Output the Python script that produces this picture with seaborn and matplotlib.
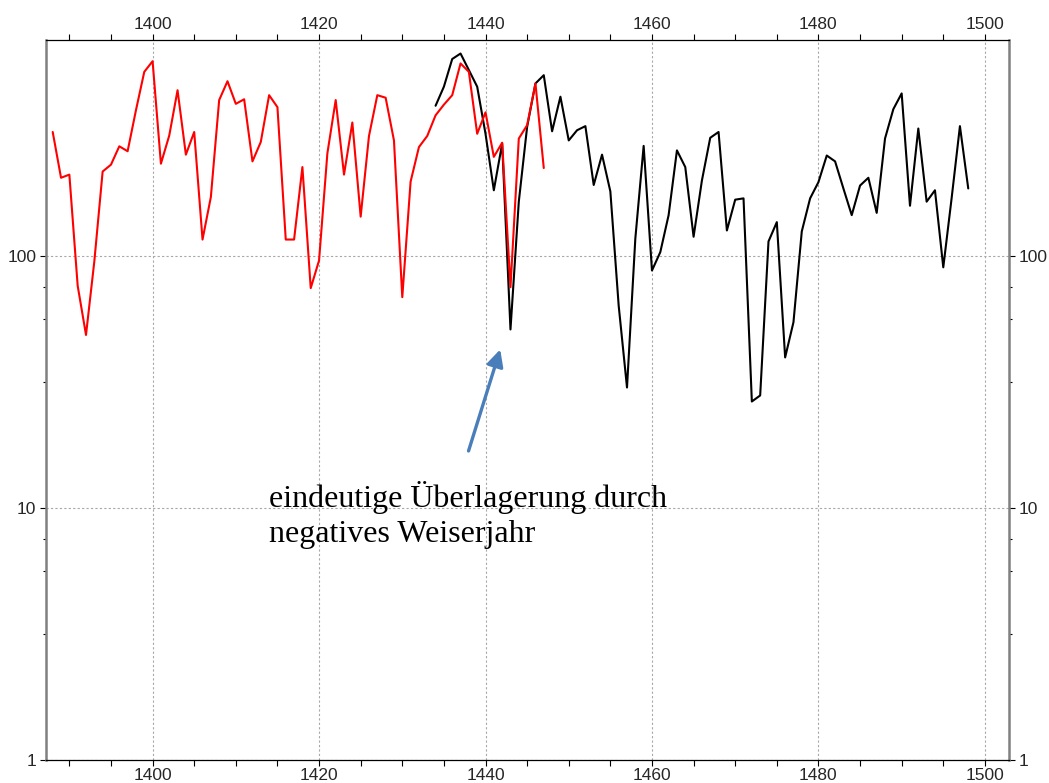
import numpy as np
import pandas as pd
import matplotlib
matplotlib.use('Agg')
import matplotlib.pyplot as plt
from matplotlib.ticker import FixedLocator, NullFormatter
import seaborn as sns

# red series (Kurve 1), 1388-1447
red_start = 1388
red_values = [310, 204, 210, 76, 48.5, 95, 216, 230, 272, 260,
              378, 537, 592, 232, 300, 454, 252, 310, 116, 171,
              415, 493, 401, 418, 237, 283, 434, 389, 116, 116,
              225, 74.4, 95.8, 255, 415, 210, 338, 143, 299, 434,
              424, 287, 68.5, 197, 270, 299, 361, 398, 434, 580,
              537, 305, 371, 247, 281, 75, 292, 330, 483, 223]

# black series (Kurve 2), 1434-1498
black_start = 1434
black_values = [394, 469, 604, 635, 546, 469, 305, 182, 279, 51,
                164, 325, 483, 521, 312, 428, 287, 315, 327, 191,
                252, 180, 63.4, 30, 117, 273, 87.4, 103.4, 145, 262,
                225, 119, 199, 294, 310, 126, 167, 169, 26.4, 27.9,
                114, 136, 39.5, 54.5, 125, 169, 196, 250, 237, 185,
                145, 190, 204, 148, 292, 382, 441, 158, 320, 164,
                182, 90, 169, 327, 185]

x_major = [1400, 1420, 1440, 1460, 1480, 1500]
y_major = [1, 10, 100]
y_labels = ['1', '10', '100']
note = "eindeutige Überlagerung durch\nnegatives Weiserjahr"

red = pd.DataFrame({'year': np.arange(red_start, red_start + len(red_values)),
                    'value': red_values})
black = pd.DataFrame({'year': np.arange(black_start, black_start + len(black_values)),
                      'value': black_values})

sns.set_style("white")
plt.rcParams['font.family'] = ['Liberation Sans', 'DejaVu Sans']

fig = plt.figure(figsize=(10.49, 7.83), dpi=100)
ax = fig.add_axes([0.0439, 0.0298, 0.918, 0.919])

sns.lineplot(data=black, x='year', y='value', color='black', linewidth=1.5, ax=ax)
sns.lineplot(data=red, x='year', y='value', color='#ff0000', linewidth=1.5, ax=ax)

ax.set_yscale('log')
ax.set_xlim(1387.2, 1502.9)
ax.set_ylim(1, 718)
ax.set_xlabel('')
ax.set_ylabel('')

ax.xaxis.set_major_locator(FixedLocator(x_major))
ax.xaxis.set_minor_locator(FixedLocator(np.arange(1390, 1505, 5)))
ax.yaxis.set_major_locator(FixedLocator(y_major))
ax.set_yticklabels(y_labels)
minor_y = [10 ** (k + f) for k in (0, 1) for f in (0.5, 0.75, 0.875)]
ax.yaxis.set_minor_locator(FixedLocator(minor_y))
ax.yaxis.set_minor_formatter(NullFormatter())

ax.tick_params(axis='x', which='both', top=True, bottom=True, labeltop=True,
               direction='out', length=4, width=0.8, color='black',
               labelsize=12.5, pad=2)
ax.tick_params(axis='y', which='major', left=True, right=True, labelright=True,
               direction='out', length=4, width=0.8, color='black',
               labelsize=12.5, pad=3)
ax.tick_params(axis='y', which='minor', left=True, right=True,
               direction='out', length=2, width=0.8, color='black')

ax.grid(True, which='major', color='#a8a8a8', linestyle=(0, (2, 2)), linewidth=0.8)

for side in ['top', 'bottom']:
    ax.spines[side].set_color('black')
    ax.spines[side].set_linewidth(0.9)
for side in ['left', 'right']:
    ax.spines[side].set_color('#808080')
    ax.spines[side].set_linewidth(1.8)

ax.annotate('', xy=(1441.77, 42.5), xytext=(1437.96, 16.8),
            arrowprops=dict(arrowstyle='-|>,head_length=1.0,head_width=0.5',
                            color='#4a7ebb', linewidth=2.4, shrinkA=0, shrinkB=0))
# baseline of the last line
ax.text(1414.04, 7.33, note, family=['Liberation Serif', 'DejaVu Serif'],
        fontsize=23, ha='left', va='baseline', linespacing=1.25, color='black')

fig.savefig('out.png', dpi=100)
